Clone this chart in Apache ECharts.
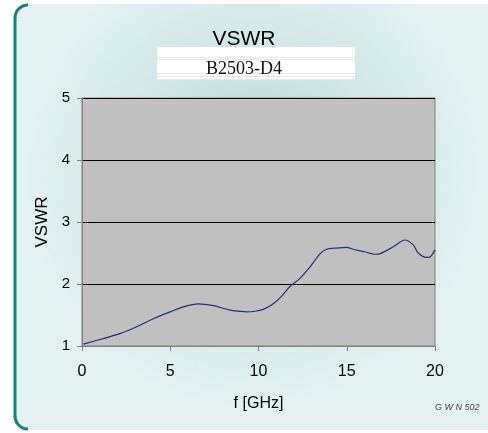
<!DOCTYPE html>
<html>
<head>
<meta charset="utf-8">
<title>VSWR B2503-D4</title>
<style>
  * { margin: 0; padding: 0; }
  html, body { background: #fff; }
  #chart-container { width: 488px; height: 433px; }
</style>
</head>
<body>
<div id="chart-container"></div>
<script src="https://cdn.jsdelivr.net/npm/echarts@6/dist/echarts.min.js"></script>
<script>
var freq = [0.08, 1.2, 2.15, 3.1, 4.04, 4.99, 5.74, 6.59, 7.44, 8.39, 8.95, 9.33, 9.8, 10.27,
  10.84, 11.3, 11.78, 12.35, 12.9, 13.5, 13.86, 14.4, 15.0, 15.37, 16.0, 16.6, 16.9, 17.64,
  18.3, 18.77, 19.05, 19.53, 19.66, 20];
var vswr = [1.03, 1.12, 1.2, 1.31, 1.44, 1.55, 1.63, 1.68, 1.65, 1.58, 1.56, 1.55, 1.56, 1.59,
  1.68, 1.8, 1.96, 2.09, 2.27, 2.49, 2.56, 2.58, 2.59, 2.56, 2.52, 2.48, 2.49, 2.6,
  2.71, 2.63, 2.5, 2.43, 2.43, 2.55];
var xTicks = [0, 5, 10, 15, 20];
var yTicks = [1, 2, 3, 4, 5];

var pts = [];
for (var i = 0; i < freq.length; i++) pts.push([freq[i], vswr[i]]);

var chart = echarts.init(document.getElementById('chart-container'), null, { renderer: 'canvas' });

var border = { stroke: '#128282', lineWidth: 3, fill: null };
var stripe = { stroke: '#e4e9ee', lineWidth: 1 };

var option = {
  animation: false,
  backgroundColor: '#ffffff',
  graphic: [
    {
      type: 'rect', z: -10, silent: true,
      shape: { x: 14, y: 4, width: 480, height: 426, r: [12, 0, 0, 12] },
      style: {
        fill: new echarts.graphic.RadialGradient(0.5, 0.4, 0.55, [
          { offset: 0, color: '#b2d4d4' },
          { offset: 0.5, color: '#cfe6e6' },
          { offset: 1, color: '#e3f1f1' }
        ])
      }
    },
    { type: 'line', silent: true, shape: { x1: 15, y1: 17, x2: 15, y2: 417 }, style: border },
    { type: 'arc', silent: true, shape: { cx: 28, cy: 18, r: 13, startAngle: Math.PI, endAngle: Math.PI * 1.5 }, style: border },
    { type: 'arc', silent: true, shape: { cx: 28, cy: 416, r: 13, startAngle: Math.PI * 0.5, endAngle: Math.PI }, style: border },
    {
      type: 'rect', silent: true,
      shape: { x: 157, y: 47, width: 198, height: 33 },
      style: { fill: '#ffffff' }
    },
    { type: 'line', silent: true, shape: { x1: 157, y1: 57.5, x2: 355, y2: 57.5 }, style: stripe },
    { type: 'line', silent: true, shape: { x1: 157, y1: 59.5, x2: 355, y2: 59.5 }, style: stripe },
    { type: 'line', silent: true, shape: { x1: 157, y1: 73.5, x2: 355, y2: 73.5 }, style: stripe },
    { type: 'line', silent: true, shape: { x1: 157, y1: 76.5, x2: 355, y2: 76.5 }, style: stripe },
    { type: 'line', silent: true, shape: { x1: 157, y1: 79.5, x2: 355, y2: 79.5 }, style: stripe },
    {
      type: 'text', silent: true, left: 'center', top: 60,
      style: { text: 'B2503-D4', fill: '#111', font: '18px "Liberation Serif"' }
    },
    {
      type: 'text', silent: true, left: 435, top: 403,
      style: { text: 'G W N 502', fill: '#444', font: 'italic 9px "Liberation Sans"' }
    }
  ],
  title: {
    text: 'VSWR', left: 'center', top: 24,
    textStyle: { fontFamily: 'Liberation Sans', fontSize: 21, fontWeight: 'normal', color: '#000' }
  },
  grid: { left: 82, right: 53, top: 98, bottom: 87, show: true, backgroundColor: '#c0c0c0', borderColor: '#808080', borderWidth: 1 },
  xAxis: {
    type: 'value', min: 0, max: 20, interval: 5,
    name: 'f [GHz]', nameLocation: 'middle', nameGap: 50,
    nameTextStyle: { fontFamily: 'Liberation Sans', fontSize: 16, color: '#000' },
    axisLine: { lineStyle: { color: '#808080' } },
    axisTick: { show: true, length: 5, lineStyle: { color: '#808080' } },
    axisLabel: { fontFamily: 'Liberation Sans', fontSize: 16, color: '#000', margin: 18,
      formatter: function (v) { return xTicks.indexOf(v) >= 0 ? String(v) : ''; } },
    splitLine: { show: false }
  },
  yAxis: {
    type: 'value', min: 1, max: 5, interval: 1,
    name: 'VSWR', nameLocation: 'middle', nameGap: 30,
    nameTextStyle: { fontFamily: 'Liberation Sans', fontSize: 17, color: '#000' },
    axisLine: { show: true, lineStyle: { color: '#808080' } },
    axisTick: { show: true, length: 5, lineStyle: { color: '#808080' } },
    axisLabel: { fontFamily: 'Liberation Sans', fontSize: 15, color: '#000', margin: 12,
      formatter: function (v) { return yTicks.indexOf(v) >= 0 ? String(v) : ''; } },
    splitLine: { show: true, lineStyle: { color: '#000', width: 1 } }
  },
  series: [{
    type: 'line', data: pts, smooth: 0.3, showSymbol: false,
    lineStyle: { color: '#2b2b85', width: 1.2 }
  }]
};

chart.setOption(option);
window.addEventListener('resize', chart.resize);
</script>
</body>
</html>
